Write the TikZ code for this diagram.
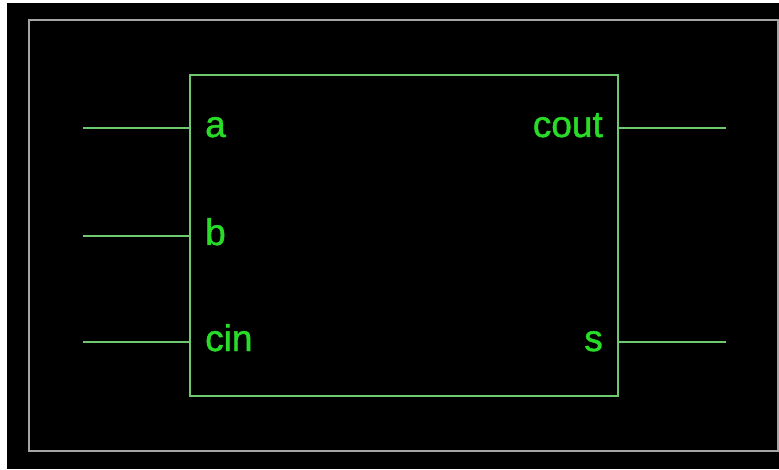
\documentclass[tikz,border=0pt]{standalone}
\usepackage{fontspec}
\setmainfont{Liberation Sans}
\newfontfamily\lblfont[FakeBold=1.2]{Liberation Sans}
\definecolor{pinline}{RGB}{110,200,110}
\definecolor{frame}{RGB}{165,165,165}
\definecolor{labelgreen}{RGB}{40,220,40}
\tikzset{
  pin/.style={draw=pinline, line width=1.2pt},
  lbl/.style={text=labelgreen, font=\lblfont\fontsize{37}{40}\selectfont, inner sep=0pt},
}
\begin{document}
\begin{tikzpicture}[x=1pt,y=1pt]
\useasboundingbox (0,0) rectangle (779,469);
\fill[white] (0,0) rectangle (779,469);
\fill[black] (7,0) rectangle (779,466);
\draw[frame, line width=1.2pt] (29,18) rectangle (778,449);
\node[draw=pinline, line width=1.2pt, minimum width=428pt, minimum height=321pt, inner sep=0pt] (blk) at (404,233.5) {};
% pin end points
\coordinate (ia) at (83,341);
\coordinate (ib) at (83,233);
\coordinate (ic) at (83,127);
\coordinate (oc) at (726,341);
\coordinate (os) at (726,127);
\draw[pin] (ia) -- (ia -| blk.west);
\draw[pin] (ib) -- (ib -| blk.west);
\draw[pin] (ic) -- (ic -| blk.west);
\draw[pin] (oc) -- (oc -| blk.east);
\draw[pin] (os) -- (os -| blk.east);
\node[lbl, anchor=base west] (la) at (205,332) {a};
\node[lbl, anchor=base west] (lb) at (205,224) {b};
\node[lbl, anchor=base west] (lc) at (205,118) {cin};
\node[lbl, anchor=base east] (lco) at (603,332) {cout};
\node[lbl, anchor=base east] (ls) at (603,118) {s};
\end{tikzpicture}
\end{document}
